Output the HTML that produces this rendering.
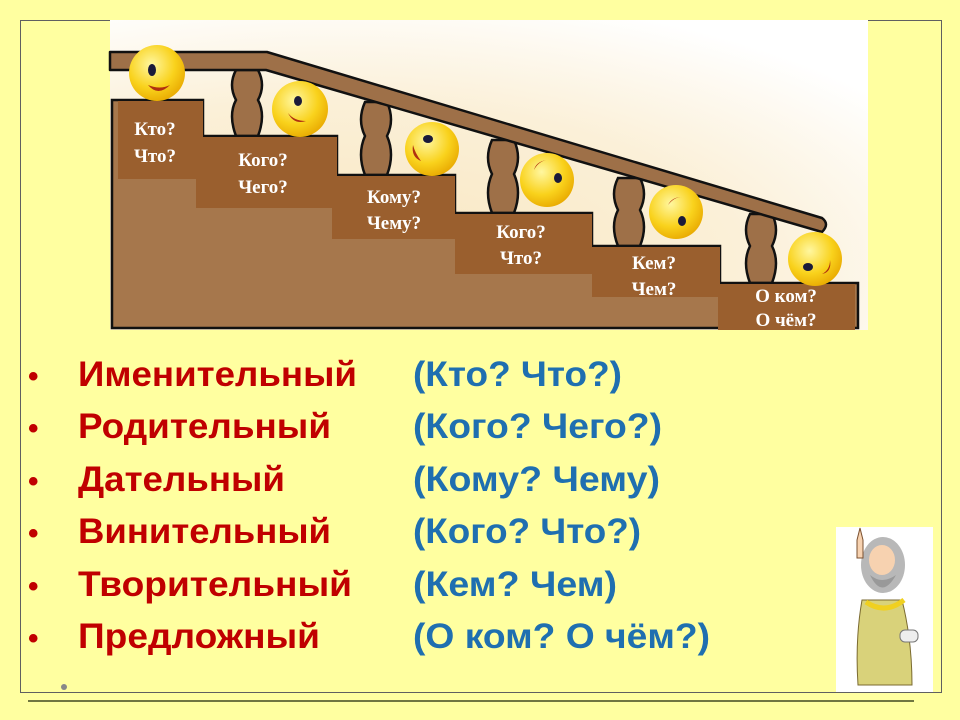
<!DOCTYPE html>
<html><head><meta charset="utf-8"><style>
html,body{margin:0;padding:0;background:#ffffa0;}
svg{display:block}
</style></head><body>
<svg width="960" height="720" viewBox="0 0 960 720" xmlns="http://www.w3.org/2000/svg">
<defs>
<radialGradient id="cream" cx="0.3" cy="0.8" r="0.9">
<stop offset="0" stop-color="#f8e6bf"/><stop offset="0.6" stop-color="#fbf0d8"/><stop offset="1" stop-color="#ffffff"/>
</radialGradient>
<radialGradient id="face" cx="0.4" cy="0.35" r="0.7">
<stop offset="0" stop-color="#fff7a0"/><stop offset="0.6" stop-color="#f9d21c"/><stop offset="1" stop-color="#e8a800"/>
</radialGradient>
</defs>
<rect x="0" y="0" width="960" height="720" fill="#ffffa0"/>
<rect x="20.5" y="20.5" width="921" height="672" fill="none" stroke="#606060" stroke-width="1"/>
<line x1="28" y1="701" x2="914" y2="701" stroke="#404820" stroke-width="1.5"/>
<rect x="110" y="20" width="758" height="310" fill="url(#cream)"/>
<g fill="#9e7048" stroke="#111" stroke-width="2.5">
<path d="M236 70 q-8 15 0 30 q-8 15 0 36 h22 q8-21 0-36 q8-15 0-30z"/>
<path d="M365 102 q-8 18 0 34 q-8 18 0 39 h22 q8-21 0-39 q8-16 0-34z"/>
<path d="M492 140 q-8 18 0 34 q-8 18 0 39 h22 q8-21 0-39 q8-16 0-34z"/>
<path d="M618 178 q-8 16 0 32 q-8 16 0 36 h22 q8-20 0-36 q8-16 0-32z"/>
<path d="M750 214 q-8 16 0 32 q-8 16 0 37 h22 q8-21 0-37 q8-16 0-32z"/>
</g>
<path d="M110 52 L267 52 L822 218 Q830 224 822 232 L266 70 L110 70 Z" fill="#9e7048" stroke="#111" stroke-width="2.5" stroke-linejoin="round"/>
<path d="M112 100 H203 V136 H337 V175 H455 V213 H592 V246 H720 V283 H858 V328 H112 Z" fill="#a6774c" stroke="#111" stroke-width="2.5"/>
<g fill="#9a5f2e">
<rect x="118" y="101" width="85" height="78"/>
<rect x="196" y="137" width="141" height="71"/>
<rect x="332" y="176" width="123" height="63"/>
<rect x="455" y="214" width="137" height="60"/>
<rect x="592" y="247" width="128" height="50"/>
<rect x="718" y="284" width="137" height="46"/>
</g>
<g font-family="Liberation Serif, serif" font-weight="bold" font-size="19" fill="#fff" text-anchor="middle">
<text x="155" y="135">Кто?</text><text x="155" y="162">Что?</text>
<text x="263" y="166">Кого?</text><text x="263" y="193">Чего?</text>
<text x="394" y="203">Кому?</text><text x="394" y="229">Чему?</text>
<text x="521" y="238">Кого?</text><text x="521" y="264">Что?</text>
<text x="654" y="269">Кем?</text><text x="654" y="295">Чем?</text>
<text x="786" y="302">О ком?</text><text x="786" y="326">О чём?</text>
</g>
<g>
<circle cx="157" cy="73" r="28" fill="url(#face)"/>
<circle cx="300" cy="109" r="28" fill="url(#face)"/>
<circle cx="432" cy="149" r="27" fill="url(#face)"/>
<circle cx="547" cy="180" r="27" fill="url(#face)"/>
<circle cx="676" cy="212" r="27" fill="url(#face)"/>
<circle cx="815" cy="259" r="27" fill="url(#face)"/>
</g>
<g fill="#1a1a3a">
<ellipse cx="152" cy="70" rx="4" ry="6"/><ellipse cx="298" cy="101" rx="4" ry="5"/>
<ellipse cx="428" cy="139" rx="5" ry="4"/><ellipse cx="558" cy="178" rx="4" ry="5"/>
<ellipse cx="682" cy="221" rx="4" ry="5"/><ellipse cx="808" cy="267" rx="5" ry="4"/>
</g>
<g fill="#b03010">
<path d="M148 85 q10 12 22 0 q-10 5-22 0z"/>
<path d="M288 113 q6 12 18 8 q-12 0-18-8z"/>
<path d="M413 145 q-2 12 8 16 q-6-8-8-16z"/>
<path d="M534 170 q4-8 12-10 q-10 2-12 10z"/>
<path d="M668 205 q6-8 14-8 q-10 0-14 8z"/>
<path d="M830 260 q0 10-8 14 q10-2 8-14z"/>
</g>
<g font-family="Liberation Sans, sans-serif" font-weight="bold" font-size="35">
<g fill="#c00000">
<text x="28" y="386" font-size="30">•</text><text x="28" y="438" font-size="30">•</text><text x="28" y="491" font-size="30">•</text>
<text x="28" y="543" font-size="30">•</text><text x="28" y="596" font-size="30">•</text><text x="28" y="648" font-size="30">•</text>
<text x="78" y="386" textLength="279" lengthAdjust="spacingAndGlyphs">Именительный</text>
<text x="78" y="438" textLength="253" lengthAdjust="spacingAndGlyphs">Родительный</text>
<text x="78" y="491" textLength="207" lengthAdjust="spacingAndGlyphs">Дательный</text>
<text x="78" y="543" textLength="253" lengthAdjust="spacingAndGlyphs">Винительный</text>
<text x="78" y="596" textLength="274" lengthAdjust="spacingAndGlyphs">Творительный</text>
<text x="78" y="648" textLength="242" lengthAdjust="spacingAndGlyphs">Предложный</text>
</g>
<g fill="#1f6fb0">
<text x="413" y="386" textLength="209" lengthAdjust="spacingAndGlyphs">(Кто? Что?)</text>
<text x="413" y="438" textLength="249" lengthAdjust="spacingAndGlyphs">(Кого? Чего?)</text>
<text x="413" y="491" textLength="247" lengthAdjust="spacingAndGlyphs">(Кому? Чему)</text>
<text x="413" y="543" textLength="228" lengthAdjust="spacingAndGlyphs">(Кого? Что?)</text>
<text x="413" y="596" textLength="204" lengthAdjust="spacingAndGlyphs">(Кем? Чем)</text>
<text x="413" y="648" textLength="297" lengthAdjust="spacingAndGlyphs">(О ком? О чём?)</text>
</g>
</g>
<circle cx="64" cy="687" r="3" fill="#888"/>
<rect x="836" y="527" width="97" height="165" fill="#fff"/>
<path d="M862 600 Q855 640 858 685 L912 685 Q912 640 902 600 Z" fill="#d9d27a" stroke="#7a6a30"/>
<path d="M866 602 Q885 615 904 600" stroke="#f0d020" stroke-width="5" fill="none"/>
<ellipse cx="883" cy="565" rx="22" ry="28" fill="#b8b8b8"/>
<ellipse cx="882" cy="560" rx="13" ry="15" fill="#f7d2b0"/>
<path d="M870 575 Q882 600 896 575 Q882 585 870 575z" fill="#999"/>
<path d="M857 540 l3 -12 l3 12 v18 h-6z" fill="#f7d2b0" stroke="#7a5030"/>
<rect x="900" y="630" width="18" height="12" rx="5" fill="#eee" stroke="#777"/>
</svg>
</body></html>
